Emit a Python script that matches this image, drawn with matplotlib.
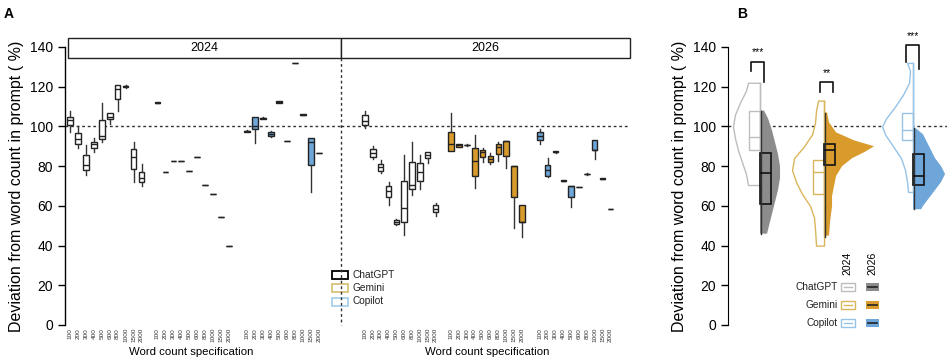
import matplotlib
matplotlib.use("Agg")
import matplotlib.pyplot as plt
from matplotlib.patches import Rectangle
from matplotlib.lines import Line2D

plt.rcParams['font.family'] = ['Liberation Sans', 'DejaVu Sans']

W, H = 947, 359

# ---------------- data: panel A ----------------
word_counts = ['100', '200', '300', '400', '500', '600', '800', '1000', '1500', '2000']
models = ['ChatGPT', 'Gemini', 'Copilot']
years = ['2024', '2026']

# box stats per word count: whisker low, q1, median, q3, whisker high
gpt24_lo = [97.3, 89.3, 75.5, 87.0, 92.0, 101.0, 108.0, 119.5, 72.0, 70.0]
gpt24_q1 = [100.7, 90.9, 78.0, 89.0, 93.5, 103.7, 114.0, 119.8, 78.5, 72.0]
gpt24_md = [103.0, 93.5, 80.6, 91.0, 95.0, 105.0, 119.0, 120.2, 84.7, 74.0]
gpt24_q3 = [105.0, 96.8, 85.6, 92.3, 103.2, 106.6, 121.0, 120.6, 88.6, 77.0]
gpt24_hi = [107.7, 100.0, 90.6, 94.0, 111.6, 107.0, 121.0, 120.8, 92.0, 81.0]

gem24_lo = [111.6, 77.2, 82.7, 82.7, 77.5, 84.4, 70.3, 65.8, 54.5, 39.8]
gem24_q1 = [111.7, 77.2, 82.7, 82.7, 77.5, 84.4, 70.3, 65.8, 54.5, 39.8]
gem24_md = [112.0, 77.2, 82.7, 82.7, 77.5, 84.4, 70.3, 65.8, 54.5, 39.8]
gem24_q3 = [112.3, 77.2, 82.7, 82.7, 77.5, 84.4, 70.3, 65.8, 54.5, 39.8]
gem24_hi = [112.4, 77.2, 82.7, 82.7, 77.5, 84.4, 70.3, 65.8, 54.5, 39.8]

cop24_lo = [97.0, 91.8, 103.6, 94.5, 112.0, 92.6, 132.0, 105.8, 67.0, 86.4]
cop24_q1 = [97.2, 98.5, 103.8, 95.3, 112.0, 92.6, 132.0, 105.9, 80.6, 86.4]
cop24_md = [97.5, 100.0, 104.0, 96.0, 112.3, 92.6, 132.0, 106.0, 92.0, 86.4]
cop24_q3 = [97.8, 104.9, 104.3, 97.2, 112.6, 92.6, 132.0, 106.2, 94.3, 86.4]
cop24_hi = [98.0, 104.9, 104.5, 97.5, 112.6, 92.6, 132.0, 106.3, 94.3, 86.4]

gpt26_lo = [99.0, 83.4, 76.4, 60.4, 50.5, 45.3, 65.5, 68.3, 81.7, 54.9]
gpt26_q1 = [100.7, 84.8, 77.7, 64.3, 50.7, 52.0, 68.3, 72.7, 84.3, 56.7]
gpt26_md = [102.9, 86.5, 79.5, 67.5, 51.8, 58.7, 70.5, 77.2, 85.5, 58.5]
gpt26_q3 = [105.7, 88.5, 81.0, 70.0, 52.9, 72.5, 81.9, 81.4, 87.3, 60.4]
gpt26_hi = [107.9, 90.3, 83.0, 72.2, 53.2, 85.6, 92.3, 85.6, 87.3, 61.6]

gem26_lo = [87.8, 89.8, 90.3, 68.8, 82.2, 81.0, 82.7, 78.9, 48.7, 44.5]
gem26_q1 = [87.8, 89.8, 90.4, 75.2, 84.8, 82.2, 86.1, 85.3, 64.3, 52.0]
gem26_md = [91.0, 90.6, 90.6, 82.6, 87.0, 83.5, 89.8, 92.8, 80.0, 52.0]
gem26_q3 = [97.3, 91.4, 90.8, 89.0, 88.1, 85.0, 91.1, 92.8, 80.0, 60.3]
gem26_hi = [106.9, 91.4, 90.9, 95.7, 89.0, 86.4, 92.3, 92.8, 80.0, 60.3]

cop26_lo = [91.1, 74.3, 86.8, 72.3, 59.2, 69.6, 75.6, 83.4, 73.4, 58.3]
cop26_q1 = [93.2, 75.0, 87.0, 72.5, 64.6, 69.6, 75.8, 88.1, 73.5, 58.3]
cop26_md = [95.0, 78.0, 87.3, 72.7, 70.0, 69.6, 75.9, 88.1, 73.7, 58.3]
cop26_q3 = [97.3, 80.6, 87.6, 73.0, 70.2, 69.6, 76.2, 93.2, 73.9, 58.3]
cop26_hi = [98.5, 83.9, 87.8, 73.1, 70.2, 69.6, 76.3, 93.2, 74.0, 58.3]

# ---------------- data: panel B (half violins) ----------------
b_models = ['ChatGPT', 'Gemini', 'Copilot']
# box stats: low, q1, median, q3, high
b24_box = [(70.5, 88.0, 94.5, 108.0, 122.0), (45.0, 66.0, 77.2, 83.0, 113.0), (67.0, 93.2, 98.2, 106.6, 132.0)]
b26_box = [(45.8, 61.0, 76.7, 86.4, 108.0), (44.5, 80.6, 88.0, 91.0, 107.0), (58.3, 70.5, 75.0, 86.0, 99.0)]
# density outlines: values and half widths (px)
gpt24_v = [122, 118, 112, 106, 100, 94, 88, 82, 76, 70.5]
gpt24_w = [12, 14, 20, 25, 27, 25, 22, 18, 14, 12]
gpt26_v = [108, 104, 98, 92, 86, 80, 74, 68, 60, 52, 46]
gpt26_w = [4, 8, 12, 15, 18, 20, 20, 18, 14, 10, 7]
gem24_v = [113, 108, 102, 96, 90, 84, 78, 72, 66, 60, 54, 48, 40]
gem24_w = [6, 8, 9, 12, 20, 30, 32, 28, 22, 14, 10, 9, 8]
gem26_v = [107, 102, 97, 93, 90, 87, 84, 80, 75, 70, 65, 60, 52, 45]
gem26_w = [3, 5, 12, 30, 50, 40, 28, 18, 12, 10, 8, 8, 6, 5]
cop24_v = [132, 128, 122, 116, 110, 104, 100, 96, 90, 84, 78, 72, 67]
cop24_w = [6, 3, 4, 10, 18, 27, 31, 28, 20, 12, 8, 6, 5]
cop26_v = [99, 96, 92, 88, 84, 80, 76, 72, 68, 64, 60, 58.3]
cop26_w = [3, 10, 14, 18, 22, 28, 32, 28, 22, 16, 10, 8]
sig_labels = ['***', '**', '***']

# ---------------- styles ----------------
fill_col = {'ChatGPT': 'white', 'Gemini': '#D99B2B', 'Copilot': '#6EA6DA'}
leg_edge = {'ChatGPT': 'black', 'Gemini': '#D8C07E', 'Copilot': '#A9D1EA'}
out24 = ['#BDBDBD', '#D9B65A', '#96C3E6']
fill26 = ['#8C8C8C', '#D99B2B', '#6EA6DA']


def fx(x):
    return x / W


def fy(y):
    return 1 - y / H


def ax_rect(x0, x1, y0=47, y1=325):
    return [fx(x0), fy(y1), fx(x1) - fx(x0), (y1 - y0) / H]


fig = plt.figure(figsize=(W / 100, H / 100), dpi=100)

axA1 = fig.add_axes(ax_rect(65, 341))
axA2 = fig.add_axes(ax_rect(341, 630))
axB = fig.add_axes(ax_rect(728, 947))

offsets = [0, 11, 22.3]
stats24 = [(gpt24_lo, gpt24_q1, gpt24_md, gpt24_q3, gpt24_hi),
           (gem24_lo, gem24_q1, gem24_md, gem24_q3, gem24_hi),
           (cop24_lo, cop24_q1, cop24_md, cop24_q3, cop24_hi)]
stats26 = [(gpt26_lo, gpt26_q1, gpt26_md, gpt26_q3, gpt26_hi),
           (gem26_lo, gem26_q1, gem26_md, gem26_q3, gem26_hi),
           (cop26_lo, cop26_q1, cop26_md, cop26_q3, cop26_hi)]


def draw_facet(ax, stats, xlim):
    ticks, labels = [], []
    for m, (lo, q1, md, q3, hi), off in zip(models, stats, offsets):
        bst = [dict(whislo=a, q1=b, med=c, q3=d, whishi=e, fliers=[])
               for a, b, c, d, e in zip(lo, q1, md, q3, hi)]
        pos = [off + i for i in range(len(word_counts))]
        ax.bxp(bst, positions=pos, widths=0.7, patch_artist=True, showcaps=False,
               boxprops=dict(facecolor=fill_col[m], edgecolor='#222222', linewidth=1.0),
               medianprops=dict(color='#222222', linewidth=1.0),
               whiskerprops=dict(color='#333333', linewidth=1.0))
        ticks += pos
        labels += word_counts
    ax.set_xticks(ticks)
    ax.set_xticklabels(labels, rotation=90, fontsize=4.6, color='#333333')
    ax.tick_params(axis='x', length=0, pad=2)
    ax.set_xlim(*xlim)
    ax.set_ylim(0, 140)
    for s in ['top', 'right', 'bottom']:
        ax.spines[s].set_visible(False)
    ax.axhline(100, color='#333333', linestyle=(0, (2, 2)), linewidth=1.0, zorder=0)


draw_facet(axA1, stats24, (-0.63, 34.1))
draw_facet(axA2, stats26, (-3.06, 33.8))

axA1.set_yticks(range(0, 141, 20))
axA1.tick_params(axis='y', labelsize=10, length=5, width=1)
axA1.spines['left'].set_linewidth(1.0)
axA1.set_ylabel('Deviation from word count in prompt ( %)', fontsize=11.5, labelpad=4)
axA2.spines['left'].set_visible(False)
axA2.set_yticks([])

# vertical dashed separator between the two facets
fig.add_artist(Line2D([fx(341), fx(341)], [fy(58), fy(325)], color='#333333',
                      linestyle=(0, (2, 2)), linewidth=1.0))

# facet strips
for x0, x1, lab in [(68, 341, '2024'), (341, 630, '2026')]:
    fig.add_artist(Rectangle((fx(x0), fy(58)), fx(x1) - fx(x0), (58 - 38) / H,
                             facecolor='white', edgecolor='#222222', linewidth=1.0))
    fig.text(fx((x0 + x1) / 2), fy(48), lab, ha='center', va='center', fontsize=9)

fig.text(fx(191), fy(352), 'Word count specification', ha='center', va='center', fontsize=8.2)
fig.text(fx(487), fy(352), 'Word count specification', ha='center', va='center', fontsize=8.2)

# legend panel A
for i, m in enumerate(models):
    yc = 274.5 + i * 13.5
    fig.add_artist(Rectangle((fx(332), fy(yc + 4)), 16 / W, 8 / H, facecolor='white',
                             edgecolor=leg_edge[m], linewidth=1.3))
    fig.text(fx(352), fy(yc), m, ha='left', va='center', fontsize=7.3, color='#222222')

fig.text(fx(4), fy(14), 'A', fontsize=10, fontweight='bold', va='center')
fig.text(fx(737), fy(14), 'B', fontsize=10, fontweight='bold', va='center')

# ---------------- panel B ----------------
unit = 64.0
centers = [1, 2, 3.39]
profiles24 = [(gpt24_v, gpt24_w), (gem24_v, gem24_w), (cop24_v, cop24_w)]
profiles26 = [(gpt26_v, gpt26_w), (gem26_v, gem26_w), (cop26_v, cop26_w)]
bw = 11 / unit

axB.axhline(100, color='#333333', linestyle=(0, (2, 2)), linewidth=1.0, zorder=0)
for k, c in enumerate(centers):
    v, w = profiles24[k]
    xs = [c - wi / unit for wi in w]
    axB.fill_betweenx(v, xs, c, facecolor='white', edgecolor=out24[k], linewidth=1.0, zorder=2)
    v, w = profiles26[k]
    xs = [c + wi / unit for wi in w]
    axB.fill_betweenx(v, c, xs, facecolor=fill26[k], edgecolor='none', linewidth=0, zorder=2)
    # 2024 box (left half)
    lo, q1, md, q3, hi = b24_box[k]
    axB.bxp([dict(whislo=lo, q1=q1, med=md, q3=q3, whishi=hi, fliers=[])],
            positions=[c - bw / 2], widths=bw, patch_artist=True, showcaps=False,
            boxprops=dict(facecolor='none', edgecolor=out24[k], linewidth=1.0),
            medianprops=dict(color=out24[k], linewidth=1.0),
            whiskerprops=dict(color=out24[k], linewidth=0), zorder=3)
    axB.plot([c, c], [lo, hi], color=out24[k], linewidth=1.0, zorder=3)
    # 2026 box (right half)
    lo, q1, md, q3, hi = b26_box[k]
    axB.bxp([dict(whislo=lo, q1=q1, med=md, q3=q3, whishi=hi, fliers=[])],
            positions=[c + bw / 2], widths=bw, patch_artist=True, showcaps=False,
            boxprops=dict(facecolor='none', edgecolor='#111111', linewidth=1.2),
            medianprops=dict(color='#111111', linewidth=1.2),
            whiskerprops=dict(color='#111111', linewidth=0), zorder=4)
    axB.plot([c + 0.01, c + 0.01], [lo, hi], color='#333333', linewidth=1.0, zorder=4)

# significance brackets
brackets = [(751, 764, 61.7, 70.7, 81.7, 758, 52.0),
            (820, 833, 81.7, 91.7, 91.7, 827, 73.0),
            (906, 919, 45.0, 62.0, 69.3, 913, 36.0)]
for (x0, x1, ytop, yl, yr, xt, yt), lab in zip(brackets, sig_labels):
    fig.add_artist(Line2D([fx(x0), fx(x0), fx(x1), fx(x1)], [fy(yl), fy(ytop), fy(ytop), fy(yr)],
                          color='#111111', linewidth=1.2))
    fig.text(fx(xt), fy(yt), lab, ha='center', va='center', fontsize=7.5)

axB.set_xlim(0.5, 3.92)
axB.set_ylim(0, 140)
axB.set_xticks([])
axB.set_yticks(range(0, 141, 20))
axB.tick_params(axis='y', labelsize=10, length=5, width=1)
axB.set_ylabel('Deviation from word count in prompt ( %)', fontsize=11.5, labelpad=4)
for s in ['top', 'right', 'bottom']:
    axB.spines[s].set_visible(False)

# legend panel B
fig.text(fx(847), fy(263), '2024', rotation=90, ha='center', va='center', fontsize=7.5)
fig.text(fx(872), fy(263), '2026', rotation=90, ha='center', va='center', fontsize=7.5)
for i, m in enumerate(b_models):
    yc = 287 + i * 18
    fig.text(fx(838), fy(yc), m, ha='right', va='center', fontsize=7.3, color='#222222')
    fig.add_artist(Rectangle((fx(841), fy(yc + 4)), 14 / W, 8 / H, facecolor='white',
                             edgecolor=out24[i], linewidth=1.0))
    fig.add_artist(Line2D([fx(844), fx(852)], [fy(yc), fy(yc)], color=out24[i], linewidth=1.0))
    fig.add_artist(Rectangle((fx(866), fy(yc + 4)), 13 / W, 8 / H, facecolor=fill26[i],
                             edgecolor='none'))
    fig.add_artist(Line2D([fx(868), fx(877)], [fy(yc), fy(yc)], color='#222222', linewidth=1.2))

fig.savefig('out.png', dpi=100)
